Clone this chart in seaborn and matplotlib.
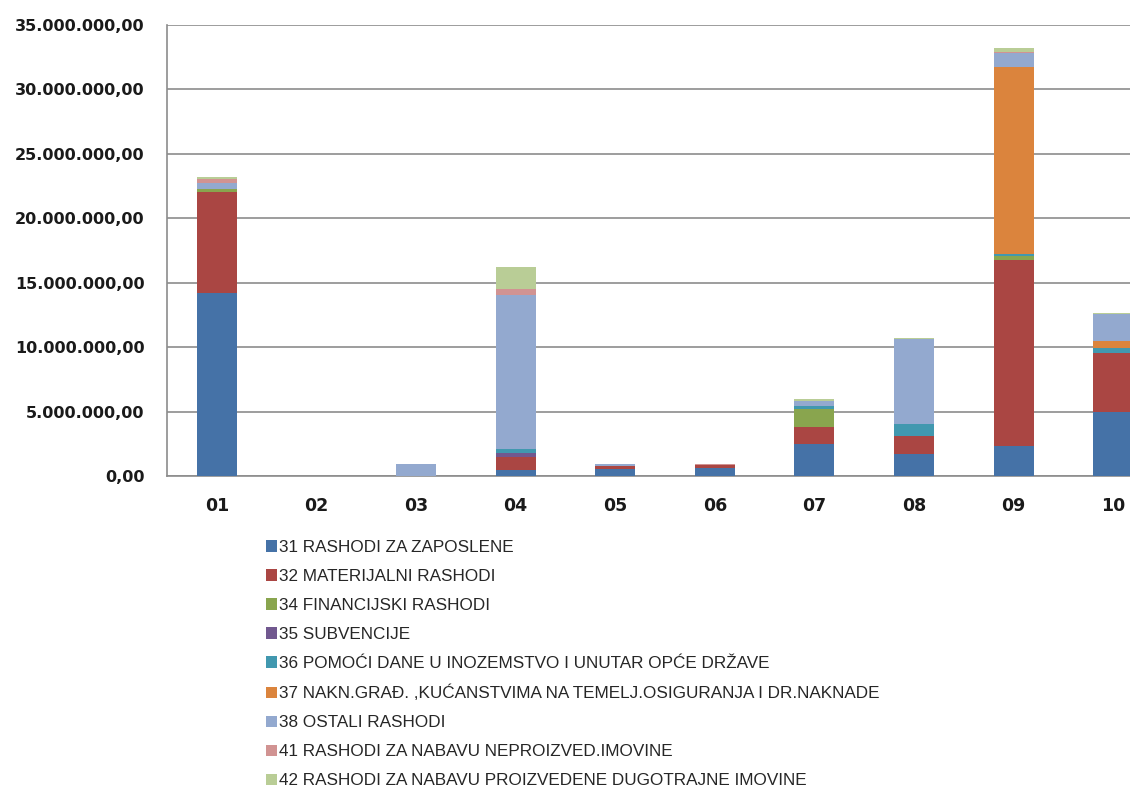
import pandas as pd
import matplotlib.pyplot as plt
import seaborn as sns
import numpy as np
from matplotlib.patches import Patch
from matplotlib.ticker import FuncFormatter

# mjeseci 01-10, iznosi u milijunima kn
months = ['01', '02', '03', '04', '05', '06', '07', '08', '09', '10']

r31 = [14.22, 0.0, 0.0, 0.46, 0.57, 0.59, 2.46, 1.68, 2.35, 4.99]
r32 = [7.84, 0.0, 0.0, 0.99, 0.23, 0.24, 1.32, 1.45, 14.41, 4.53]
r34 = [0.19, 0.0, 0.0, 0.0, 0.0, 0.0, 1.40, 0.0, 0.34, 0.0]
r35 = [0.0, 0.0, 0.0, 0.31, 0.0, 0.0, 0.0, 0.0, 0.0, 0.0]
r36 = [0.0, 0.0, 0.0, 0.31, 0.0, 0.0, 0.25, 0.88, 0.13, 0.44]
r37 = [0.0, 0.0, 0.0, 0.0, 0.0, 0.0, 0.0, 0.0, 14.54, 0.52]
r38 = [0.46, 0.0, 0.91, 11.98, 0.13, 0.0, 0.42, 6.60, 1.03, 2.07]
r41 = [0.31, 0.0, 0.0, 0.44, 0.0, 0.10, 0.0, 0.0, 0.10, 0.0]
r42 = [0.16, 0.0, 0.0, 1.75, 0.0, 0.0, 0.13, 0.10, 0.29, 0.08]

labels = ['31 RASHODI ZA ZAPOSLENE',
          '32 MATERIJALNI RASHODI',
          '34 FINANCIJSKI RASHODI',
          '35 SUBVENCIJE',
          '36 POMOĆI DANE U INOZEMSTVO I UNUTAR OPĆE DRŽAVE',
          '37 NAKN.GRAĐ. ,KUĆANSTVIMA NA TEMELJ.OSIGURANJA I DR.NAKNADE',
          '38 OSTALI RASHODI',
          '41 RASHODI ZA NABAVU NEPROIZVED.IMOVINE',
          '42 RASHODI ZA NABAVU PROIZVEDENE DUGOTRAJNE IMOVINE']

colors = ['#4572A7', '#AA4643', '#89A54E', '#71588F', '#4198AF',
          '#DB843D', '#93A9CF', '#D19392', '#B9CD96']

series = [r31, r32, r34, r35, r36, r37, r38, r41, r42]

df = pd.DataFrame({lab: np.array(s) * 1e6 for lab, s in zip(labels, series)})
df['mjesec'] = months
cum = df[labels].cumsum(axis=1)
cum['mjesec'] = months

sns.set_style('white')

fig = plt.figure(figsize=(11.3, 7.87), dpi=100)
ax = fig.add_axes([167 / 1130, 1 - 476 / 787, 996 / 1130, 451 / 787])

# slaganje: crtaj kumulativne sume odozgo prema dolje
for lab, col in reversed(list(zip(labels, colors))):
    sns.barplot(data=cum, x='mjesec', y=lab, color=col, width=0.4,
                saturation=1, linewidth=0, ax=ax, zorder=3)

ax.set_ylim(0, 35e6)
ax.set_xlim(-0.5, len(months) - 0.5)
ax.set_yticks(np.arange(0, 35e6 + 1, 5e6))

def hr(v, pos):
    s = '{:,.2f}'.format(v)
    return s.replace(',', 'X').replace('.', ',').replace('X', '.')

ax.yaxis.set_major_formatter(FuncFormatter(hr))
ax.set_xlabel('')
ax.set_ylabel('')
ax.yaxis.grid(True, color='#8c8c8c', linewidth=1.2, zorder=0)
ax.set_axisbelow(True)

for s in ['top', 'right']:
    ax.spines[s].set_visible(False)
for s in ['left', 'bottom']:
    ax.spines[s].set_color('#8c8c8c')
    ax.spines[s].set_linewidth(1.2)

ax.set_xticks(np.arange(-0.5, len(months), 1), minor=True)
ax.tick_params(axis='x', which='major', length=0, pad=15)
ax.tick_params(axis='x', which='minor', length=6, color='#8c8c8c', direction='out')
ax.tick_params(axis='y', length=6, color='#8c8c8c', direction='out', pad=10)

for t in ax.get_yticklabels():
    t.set_fontfamily('DejaVu Sans')
    t.set_fontsize(11.5)
    t.set_fontweight('bold')
    t.set_color('#1a1a1a')
for t in ax.get_xticklabels():
    t.set_fontfamily('DejaVu Sans')
    t.set_fontsize(12.5)
    t.set_fontweight('bold')
    t.set_color('#1a1a1a')

handles = [Patch(facecolor=c, edgecolor='none') for c in colors]
fig.legend(handles, labels, loc='upper left',
           bbox_to_anchor=(259 / 1130, 1 - 533 / 787),
           frameon=False, ncol=1, handlelength=0.65, handleheight=0.65,
           handletextpad=0.1, labelspacing=0.82, borderaxespad=0,
           prop={'family': ['Liberation Sans Narrow', 'Liberation Sans'], 'size': 12.3})

fig.savefig('out.png', dpi=100)
